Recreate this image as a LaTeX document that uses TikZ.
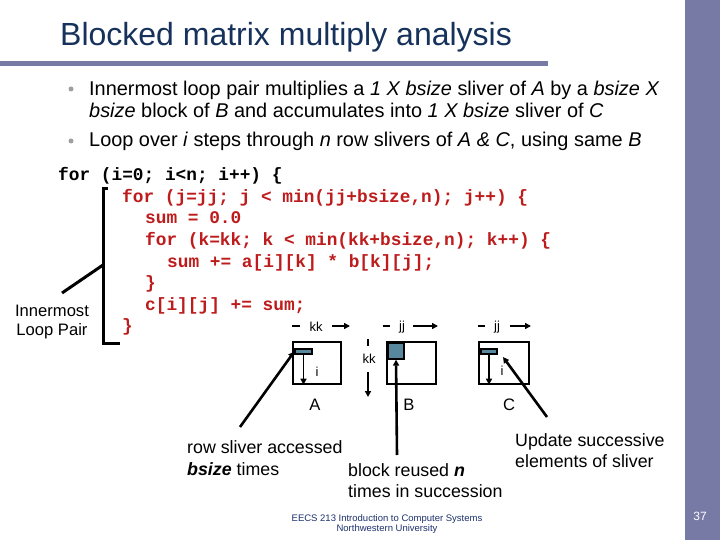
\documentclass[tikz,border=0pt]{standalone}
\usepackage{fontspec}
\setmainfont{Liberation Sans}
\setmonofont{Liberation Mono}
\usetikzlibrary{positioning,arrows.meta,calc}
\definecolor{barcol}{RGB}{120,122,166}
\definecolor{ttlblue}{RGB}{22,50,92}
\definecolor{codered}{RGB}{190,28,28}
\definecolor{slvblue}{RGB}{88,136,158}
\definecolor{ftblue}{RGB}{30,50,110}
\begin{document}
\begin{tikzpicture}[x=1pt,y=-1pt,>={Triangle[length=6pt,width=6pt]},
        txt/.style={anchor=base west,inner sep=0,font=\fontsize{19.9}{20}\selectfont},
        code/.style={anchor=base west,inner sep=0,font=\ttfamily\bfseries\fontsize{17.8}{18}\selectfont},
        redcode/.style={code,text=codered},
        bul/.style={circle,fill=gray!75,minimum size=5pt,inner sep=0},
        mat/.style={draw,line width=1.3pt,minimum height=42pt,inner sep=0},
        slv/.style={draw,fill=slvblue,line width=1.3pt,inner sep=0},
        lbl/.style={inner sep=0,font=\fontsize{13}{13}\selectfont},
        capt/.style={inner sep=0,font=\fontsize{16.6}{16.6}\selectfont},
        note/.style={anchor=base west,inner sep=0,font=\fontsize{17.8}{17.8}\selectfont},
        tick/.style={line width=2.5pt},
        rng/.style={->,line width=1.8pt},
        ptr/.style={->,line width=2.6pt}]
  \useasboundingbox (0,0) rectangle (720,540);
  \fill[white] (0,0) rectangle (720,540);
  \fill[barcol] (685,0) rectangle (720,540);
  \fill[barcol] (0,61) rectangle (548,66);
  % title and bullets
  \node[anchor=base west,inner sep=0,text=ttlblue,font=\fontsize{32}{32}\selectfont] (title) at (60,46) {Blocked matrix multiply analysis};
  \node[bul] (b1) at (71,89) {};
  \node[bul] (b2) at (71,141) {};
  \node[txt] (l1) at (89,96) {Innermost loop pair multiplies a \textit{1 X bsize} sliver of \textit{A} by a \textit{bsize X}};
  \node[txt] (l2) at (89,118) {\textit{bsize} block of \textit{B} and accumulates into \textit{1 X bsize} sliver of \textit{C}};
  \node[txt] (l3) at (89,147) {Loop over \textit{i} steps through \textit{n} row slivers of \textit{A \& C}, using same \textit{B}};
  % code
  \node[code] (c0) at (58,181) {for (i=0; i<n; i++) \{};
  \node[redcode] (c1) at (122,202.5) {for (j=jj; j < min(jj+bsize,n); j++) \{};
  \node[redcode] (c2) at (145,224) {sum = 0.0};
  \node[redcode] (c3) at (145,245.5) {for (k=kk; k < min(kk+bsize,n); k++) \{};
  \node[redcode] (c4) at (167,267) {sum += a[i][k] * b[k][j];};
  \node[redcode] (c5) at (145,288.5) {\}};
  \node[redcode] (c6) at (145,310) {c[i][j] += sum;};
  \node[redcode] (c7) at (122,331.5) {\}};
  % loop bracket
  \coordinate (brtop) at (108,189);
  \coordinate (brbot) at (120,343);
  \coordinate (brmid) at (103,265);
  \coordinate (brend) at (62,293);
  \draw[line width=3pt] (brtop) -- (103,189) -- (103,343) -- (brbot);
  \draw[line width=3pt] (brmid) -- (brend);
  \node[capt,align=center] (loop) at (52,322) {Innermost\\[3pt]Loop Pair};
  % matrices
  \node[mat,minimum width=48pt] (matA) at (317,363) {};
  \node[mat,minimum width=49pt] (matB) at (411.5,363) {};
  \node[mat,minimum width=50pt] (matC) at (504,363) {};
  \node[slv,minimum width=17pt,minimum height=5pt] (slvA) at (303.5,351.5) {};
  \node[slv,minimum width=16pt,minimum height=16pt,anchor=north west] (blkB) at ($(matB.north west)+(1,1)$) {};
  \node[slv,minimum width=16pt,minimum height=5pt] (slvC) at (489,351.5) {};
  \draw[rng,line width=1.5pt] (slvA.south) -- (slvA.south |- matA.south);
  \draw[rng,line width=1.5pt] (slvC.south) -- (slvC.south |- matC.south);
  \node[lbl] (iA) at (317,372) {i};
  \node[lbl] (iC) at (502,371) {i};
  % index ranges
  \node[lbl] (kkA) at (316,327) {kk};
  \draw[tick] (292,326) -- (300,326);
  \draw[rng] (332,326) -- (350,326);
  \node[lbl] (jjB) at (402,327) {jj};
  \draw[tick] (383,326) -- (390,326);
  \draw[rng] (413,326) -- (438,326);
  \node[lbl] (jjC) at (497,327) {jj};
  \draw[tick] (478,326) -- (485,326);
  \draw[rng] (510,326) -- (531,326);
  \node[lbl] (kkB) at (369,359) {kk};
  \draw[tick] (368,339) -- (368,346);
  \draw[rng] (368,372) -- (368,397);
  \node[capt] (nA) at (315,405) {A};
  \node[capt] (nB) at (409,405) {B};
  \node[capt] (nC) at (509,405) {C};
  % pointers and notes
  \coordinate (ptrA) at (240,427);
  \coordinate (ptrB) at (397,455);
  \coordinate (ptrC) at (547,417);
  \draw[ptr] (ptrA) -- (slvA.west);
  \draw[ptr] (ptrB) -- (blkB.south);
  \draw[ptr] (ptrC) -- (503,357);
  \node[note] (na1) at (187,453) {row sliver accessed};
  \node[note] (na2) at (187,475) {\textbf{\textit{bsize}} times};
  \node[note] (nb1) at (348,476) {block reused \textbf{\textit{n}}};
  \node[note] (nb2) at (348,497) {times in succession};
  \node[note] (nc1) at (515,446) {Update successive};
  \node[note] (nc2) at (515,467) {elements of sliver};
  % footer
  \node[inner sep=0,text=ftblue,font=\fontsize{9.5}{9.5}\selectfont,align=center] (foot) at (387,524) {EECS 213 Introduction to Computer Systems\\[1pt]Northwestern University};
  \node[inner sep=0,text=white,font=\fontsize{12}{12}\selectfont] (pg) at (700,516) {37};
\end{tikzpicture}
\end{document}
